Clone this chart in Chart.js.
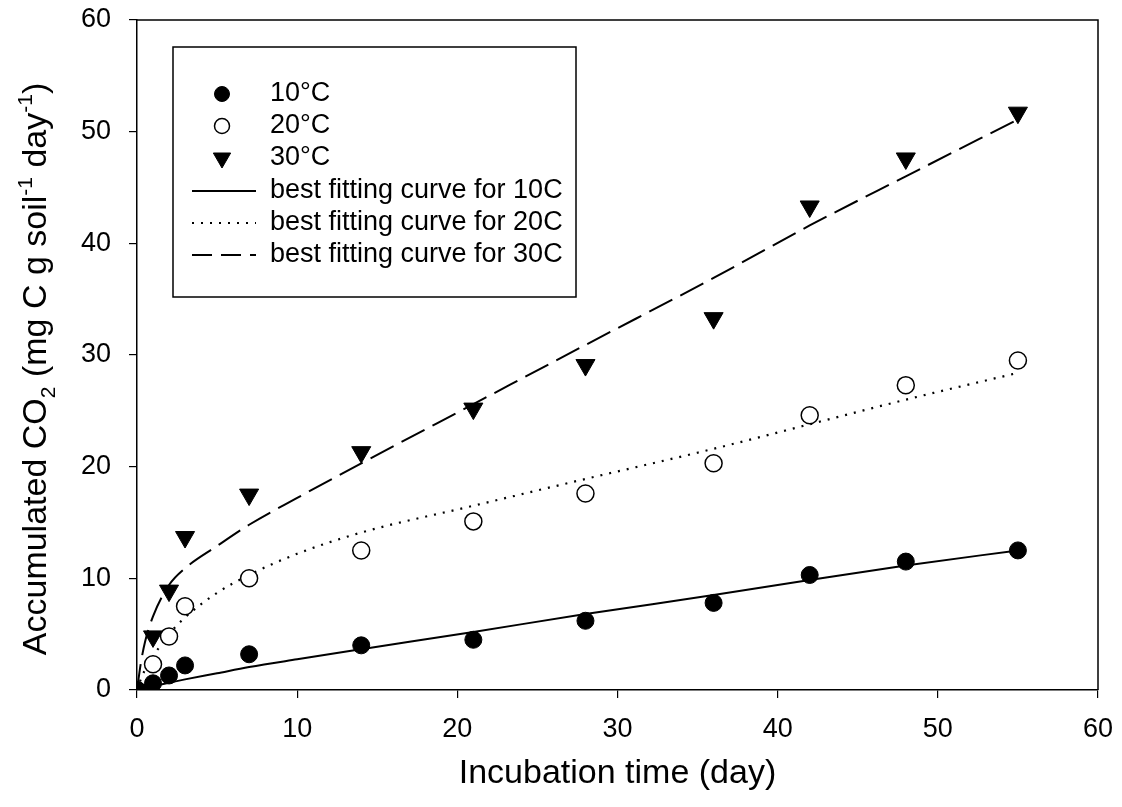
<!DOCTYPE html>
<html>
<head>
<meta charset="utf-8">
<script src="https://cdn.jsdelivr.net/npm/chart.js@4.4.1/dist/chart.umd.min.js"></script>
<style>
  html, body { margin: 0; padding: 0; background: #fff; }
  #wrap { width: 1122px; height: 807px; position: relative; }
</style>
</head>
<body>
<div id="wrap"><canvas id="chart" width="1122" height="807"></canvas></div>
<script>
// ---- measured points (day, accumulated CO2) ----
const days = [0, 1, 2, 3, 7, 14, 21, 28, 36, 42, 48, 55];
const obs10 = [0, 0.6, 1.3, 2.2, 3.2, 4.0, 4.5, 6.2, 7.8, 10.3, 11.5, 12.5];
const obs20 = [0, 2.3, 4.8, 7.5, 10.0, 12.5, 15.1, 17.6, 20.3, 24.6, 27.3, 29.5];
const obs30 = [0, 4.8, 8.9, 13.7, 17.5, 21.3, 25.2, 29.1, 33.3, 43.3, 47.6, 51.7];

// ---- fitted curves ----
const fitDays = [0, 0.25, 0.5, 1, 2, 3, 5, 7, 10, 14, 21, 28, 36, 42, 48, 55];
const fit10 = [0, 0.1, 0.2, 0.35, 0.65, 0.95, 1.5, 2.05, 2.75, 3.65, 5.2, 6.8, 8.5, 9.85, 11.15, 12.5];
const fit20 = [0, 1.0, 1.8, 3.0, 5.0, 6.5, 8.7, 10.3, 12.2, 14.1, 16.5, 18.9, 21.6, 23.8, 26.0, 28.4];
const fit30 = [0, 2.5, 4.3, 6.6, 9.4, 10.9, 12.9, 14.8, 17.2, 20.3, 25.6, 30.9, 36.9, 41.6, 46.0, 51.1];

const xTicks = [0, 10, 20, 30, 40, 50, 60];
const yTicks = [0, 10, 20, 30, 40, 50, 60];
const FONT = '"Liberation Sans", Arial, Helvetica, sans-serif';

function pts(xs, ys) { return xs.map((x, i) => ({ x: x, y: ys[i] })); }

const datasets = [
  { type: 'scatter', label: '10°C', data: pts(days, obs10), pointStyle: 'circle', pointRadius: 8.5,
    backgroundColor: '#000', borderColor: '#000', borderWidth: 1, order: 1 },
  { type: 'scatter', label: '20°C', data: pts(days, obs20), pointStyle: 'circle', pointRadius: 8.5,
    backgroundColor: '#fff', borderColor: '#000', borderWidth: 1.5, order: 1 },
  { type: 'scatter', label: '30°C', data: pts(days, obs30), pointStyle: 'triangle', pointRadius: 11, rotation: 180,
    backgroundColor: '#000', borderColor: '#000', borderWidth: 1, order: 1 },
  { type: 'line', label: 'best fitting curve for 10C', data: pts(fitDays, fit10), borderColor: '#000', borderWidth: 2,
    pointRadius: 0, fill: false, cubicInterpolationMode: 'monotone', order: 2 },
  { type: 'line', label: 'best fitting curve for 20C', data: pts(fitDays, fit20), borderColor: '#000', borderWidth: 2.2,
    borderDash: [2, 7], pointRadius: 0, fill: false, cubicInterpolationMode: 'monotone', order: 2 },
  { type: 'line', label: 'best fitting curve for 30C', data: pts(fitDays, fit30), borderColor: '#000', borderWidth: 2,
    borderDash: [26, 9], pointRadius: 0, fill: false, cubicInterpolationMode: 'monotone', order: 2 },
];

// frame on top/right, axis titles with sub/superscripts, boxed legend
const decor = {
  id: 'decor',
  afterDraw(chart) {
    const ctx = chart.ctx, a = chart.chartArea;
    ctx.save();
    ctx.strokeStyle = '#000';
    ctx.lineWidth = 1.5;
    ctx.beginPath();
    ctx.moveTo(a.left, a.top); ctx.lineTo(a.right, a.top); ctx.lineTo(a.right, a.bottom);
    ctx.stroke();

    // x title
    ctx.fillStyle = '#000';
    ctx.font = '34px ' + FONT;
    ctx.textAlign = 'center';
    ctx.textBaseline = 'middle';
    ctx.fillText('Incubation time (day)', (a.left + a.right) / 2, 774);

    // y title
    const fs = 34, small = 21;
    const parts = [
      ['Accumulated CO', 0, fs], ['2', 9, small], [' (mg C g soil', 0, fs], ['-1', -14, small],
      [' day', 0, fs], ['-1', -14, small], [')', 0, fs]
    ];
    let total = 0;
    parts.forEach(p => { ctx.font = p[2] + 'px ' + FONT; p.push(ctx.measureText(p[0]).width); total += p[3]; });
    ctx.translate(46, 369);
    ctx.rotate(-Math.PI / 2);
    ctx.textAlign = 'left';
    ctx.textBaseline = 'alphabetic';
    let cx = -total / 2;
    parts.forEach(p => {
      ctx.font = p[2] + 'px ' + FONT;
      ctx.fillText(p[0], cx, p[1]);
      cx += p[3];
    });
    ctx.restore();

    // legend
    ctx.save();
    const lx = 173, ly = 47, lw = 403, lh = 250;
    ctx.strokeStyle = '#000';
    ctx.lineWidth = 1.5;
    ctx.strokeRect(lx, ly, lw, lh);
    ctx.font = '27px ' + FONT;
    ctx.fillStyle = '#000';
    ctx.textBaseline = 'middle';
    ctx.textAlign = 'left';
    const rowY = [94, 126, 158, 191, 223, 255];
    chart.data.datasets.forEach((ds, i) => {
      const y = rowY[i];
      ctx.save();
      if (ds.type === 'scatter') {
        const mx = 222;
        ctx.fillStyle = ds.backgroundColor;
        ctx.strokeStyle = ds.borderColor;
        ctx.lineWidth = ds.borderWidth;
        ctx.beginPath();
        if (ds.pointStyle === 'circle') {
          ctx.arc(mx, y, 7.5, 0, Math.PI * 2);
        } else {
          const r = 10;
          ctx.moveTo(mx - r * 0.866, y - r / 2);
          ctx.lineTo(mx + r * 0.866, y - r / 2);
          ctx.lineTo(mx, y + r);
          ctx.closePath();
        }
        ctx.fill();
        ctx.stroke();
      } else {
        ctx.strokeStyle = ds.borderColor;
        ctx.lineWidth = ds.borderWidth;
        ctx.setLineDash(ds.borderDash ? ds.borderDash.map(d => Math.min(d, 20)) : []);
        ctx.beginPath();
        ctx.moveTo(192, y); ctx.lineTo(256, y);
        ctx.stroke();
      }
      ctx.restore();
      ctx.fillText(ds.label, 270, y);
    });
    ctx.restore();
  }
};

new Chart(document.getElementById('chart'), {
  data: { datasets: datasets },
  options: {
    responsive: false,
    animation: false,
    layout: { padding: { top: 20, right: 24, left: 0, bottom: 0 } },
    plugins: { legend: { display: false }, tooltip: { enabled: false } },
    scales: {
      x: {
        type: 'linear', min: 0, max: 60,
        afterBuildTicks: s => { s.ticks = xTicks.map(v => ({ value: v })); },
        afterFit: s => { s.height = 117; s.paddingLeft = 0; s.paddingRight = 0; },
        grid: { drawOnChartArea: false, drawTicks: true, tickLength: 8, color: '#000', lineWidth: 1.2 },
        border: { display: true, color: '#000', width: 1.5 },
        ticks: { color: '#000', font: { family: FONT, size: 27 }, padding: 15, maxRotation: 0 }
      },
      y: {
        type: 'linear', min: 0, max: 60,
        afterBuildTicks: s => { s.ticks = yTicks.map(v => ({ value: v })); },
        afterFit: s => { s.width = 137; s.paddingTop = 0; s.paddingBottom = 0; },
        grid: { drawOnChartArea: false, drawTicks: true, tickLength: 8, color: '#000', lineWidth: 1.2 },
        border: { display: true, color: '#000', width: 1.5 },
        ticks: { color: '#000', font: { family: FONT, size: 27 }, padding: 18 }
      }
    }
  },
  plugins: [decor]
});
</script>
</body>
</html>
